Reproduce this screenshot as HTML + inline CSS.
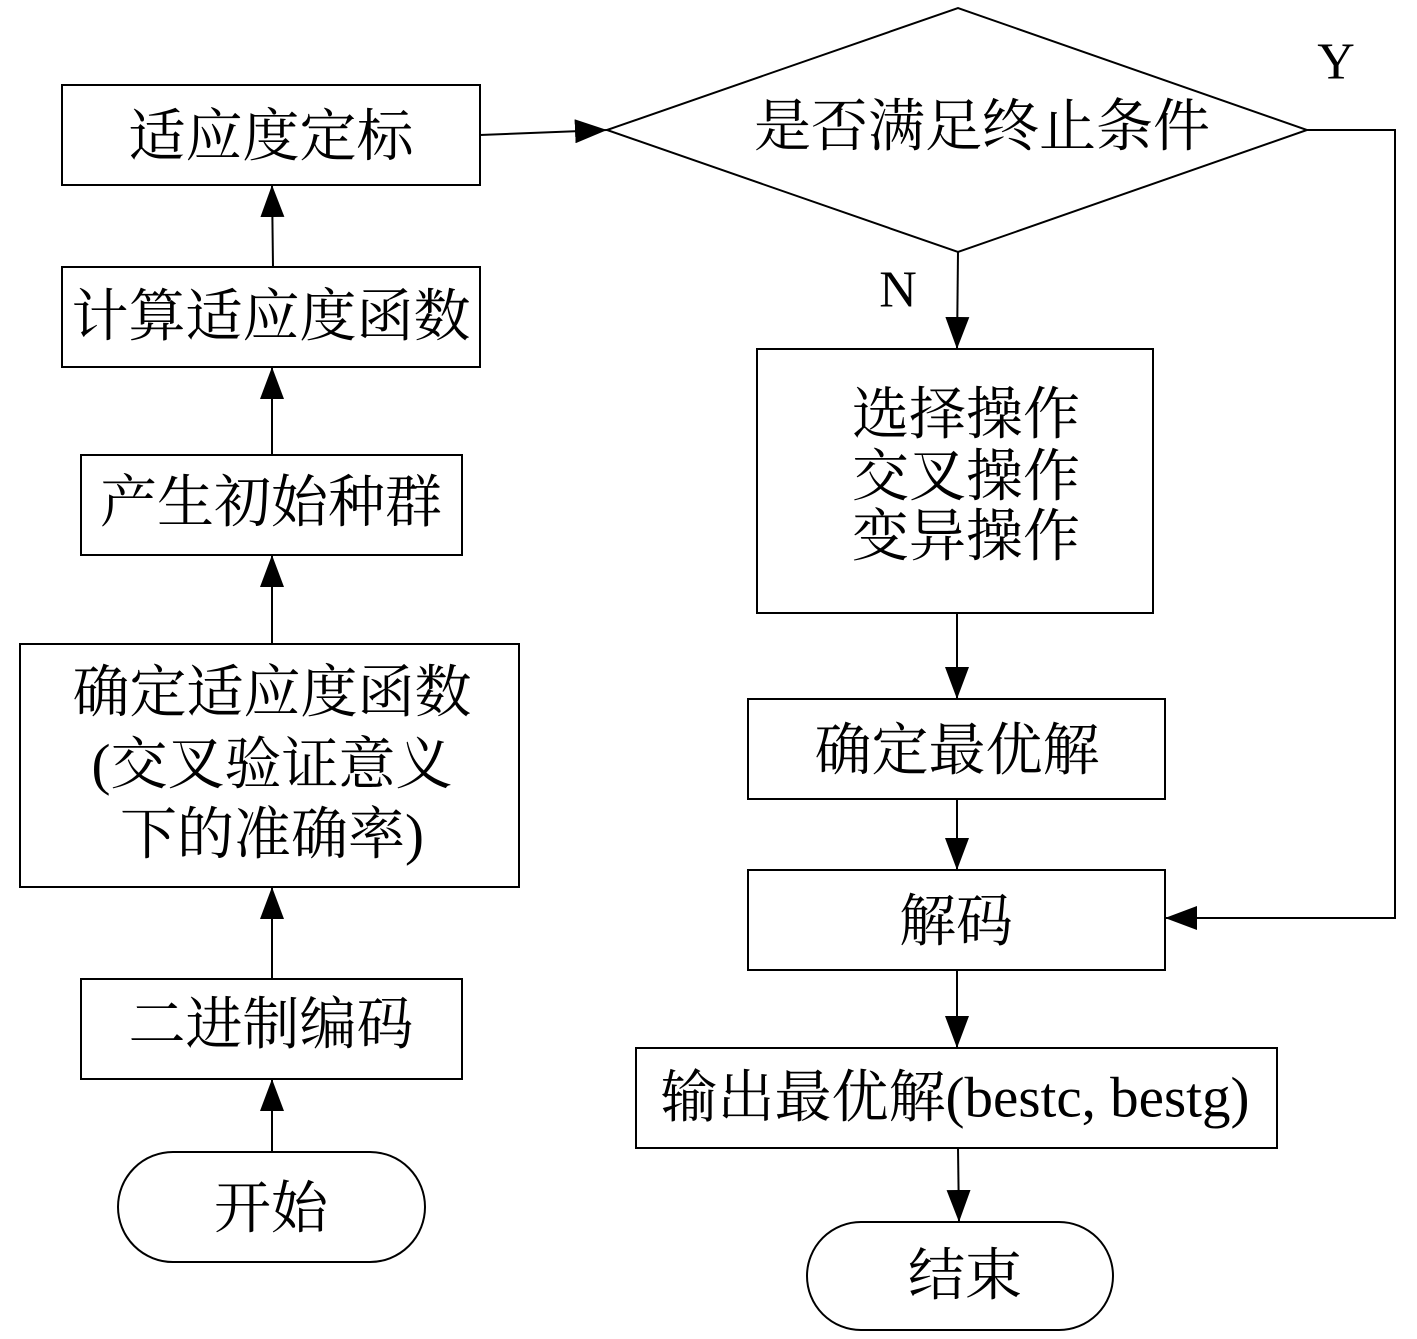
<!DOCTYPE html>
<html><head><meta charset="utf-8"><style>
html,body{margin:0;padding:0;background:#fff}
svg{display:block}
text{font-family:"Liberation Serif","Noto Serif CJK SC",serif;font-size:57px;fill:#000;text-anchor:middle;dominant-baseline:central}
</style></head><body>
<svg width="1417" height="1339" viewBox="0 0 1417 1339" xmlns="http://www.w3.org/2000/svg">
<defs><marker id="a" viewBox="0 0 32 24" refX="32" refY="12" markerWidth="32" markerHeight="24" markerUnits="userSpaceOnUse" orient="auto"><path d="M0,0L32,12L0,24Z" fill="#000"/></marker></defs>
<g fill="none" stroke="#000" stroke-width="2">
<rect x="62" y="85" width="418" height="100"/>
<rect x="62" y="267" width="418" height="100"/>
<rect x="81" y="455" width="381" height="100"/>
<rect x="20" y="644" width="499" height="243"/>
<rect x="81" y="979" width="381" height="100"/>
<rect x="118" y="1152" width="307" height="110" rx="55"/>
<path d="M607,130L958,8L1307,130L958,252Z"/>
<rect x="757" y="349" width="396" height="264"/>
<rect x="748" y="699" width="417" height="100"/>
<rect x="748" y="870" width="417" height="100"/>
<rect x="636" y="1048" width="641" height="100"/>
<rect x="807" y="1222" width="306" height="108" rx="54"/>
</g>
<g stroke="#000" stroke-width="2" fill="none" marker-end="url(#a)">
<line x1="272" y1="1152" x2="272" y2="1079"/>
<line x1="272" y1="979" x2="272" y2="887"/>
<line x1="272" y1="644" x2="272" y2="555"/>
<line x1="272" y1="455" x2="272" y2="367"/>
<line x1="273" y1="267" x2="272" y2="185"/>
<line x1="480" y1="135" x2="607" y2="130"/>
<line x1="958" y1="252" x2="957" y2="349"/>
<line x1="957" y1="613" x2="957" y2="699"/>
<line x1="957" y1="799" x2="957" y2="870"/>
<line x1="957" y1="970" x2="957" y2="1048"/>
<line x1="958" y1="1148" x2="959" y2="1222"/>
<polyline points="1307,130 1395,130 1395,918 1165,918"/>
</g>
<text x="271" y="137">适应度定标</text>
<text x="271" y="317">计算适应度函数</text>
<text x="271" y="503">产生初始种群</text>
<text x="272" y="693">确定适应度函数</text>
<text x="272" y="765">(交叉验证意义</text>
<text x="272" y="835">下的准确率)</text>
<text x="271" y="1025">二进制编码</text>
<text x="271" y="1209">开始</text>
<text x="982" y="127">是否满足终止条件</text>
<text x="966" y="415">选择操作</text>
<text x="966" y="477">交叉操作</text>
<text x="966" y="537">变异操作</text>
<text x="957" y="751">确定最优解</text>
<text x="956" y="922">解码</text>
<text x="955" y="1098">输出最优解(bestc, bestg)</text>
<text x="965" y="1276">结束</text>
<text x="1336" y="62" style="font-size:52px">Y</text>
<text x="898" y="290" style="font-size:52px">N</text>
</svg>
</body></html>
